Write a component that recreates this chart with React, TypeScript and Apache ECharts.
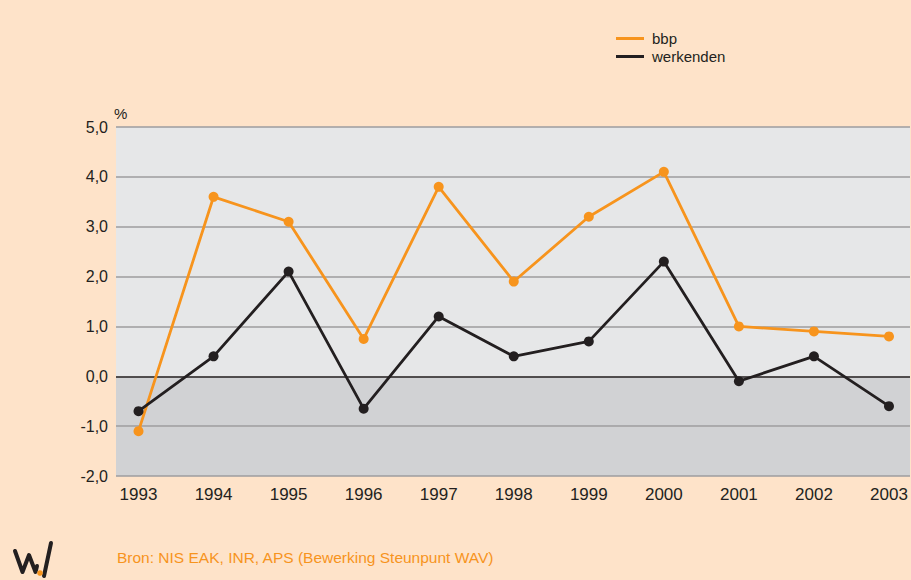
import React, { useEffect, useRef } from "react";
import * as echarts from "echarts";

const years = [1993, 1994, 1995, 1996, 1997, 1998, 1999, 2000, 2001, 2002, 2003];
const bbp = [-1.1, 3.6, 3.1, 0.75, 3.8, 1.9, 3.2, 4.1, 1.0, 0.9, 0.8];
const werkenden = [-0.7, 0.4, 2.1, -0.65, 1.2, 0.4, 0.7, 2.3, -0.1, 0.4, -0.6];
const seriesNames = ["bbp", "werkenden"];
const sourceText = "Bron: NIS EAK, INR, APS (Bewerking Steunpunt WAV)";

const FONT = "Liberation Sans, Arial, sans-serif";
const ORANGE = "#f7941d";
const DARK = "#231f20";
const GRIDGRAY = "#9d9d9f";

export default function App() {
  const ref = useRef<HTMLDivElement>(null);
  useEffect(() => {
    document.body.style.margin = "0";
    const chart = echarts.init(ref.current!, null, { renderer: "svg" });
    const mk = (vals: number[]) => years.map((y, i) => [y, vals[i]]);
    chart.setOption({
      animation: false,
      backgroundColor: "#fee3c9",
      textStyle: { fontFamily: FONT },
      grid: { left: 116, right: 1, top: 127, bottom: 104 },
      legend: {
        orient: "vertical",
        left: 611,
        top: 26,
        itemGap: 3,
        icon: "rect",
        itemWidth: 28,
        itemHeight: 3,
        textStyle: { fontSize: 15, color: DARK, fontFamily: FONT, padding: [0, 0, 0, 3] },
        data: seriesNames,
      },
      xAxis: {
        type: "value",
        min: 1992.7,
        max: 2003.28,
        minInterval: 1,
        maxInterval: 1,
        splitNumber: 11,
        axisLine: { show: false },
        axisTick: { show: false },
        splitLine: { show: false },
        axisLabel: {
          showMinLabel: false,
          showMaxLabel: false,
          fontSize: 17,
          color: DARK,
          margin: 10,
          fontFamily: FONT,
          formatter: (v: number) => String(Math.round(v)),
        },
      },
      yAxis: {
        type: "value",
        min: -2,
        max: 5,
        interval: 1,
        name: "%",
        nameLocation: "end",
        nameGap: 6,
        nameTextStyle: { fontSize: 15, color: DARK, align: "left", padding: [0, 0, 0, -2], fontFamily: FONT },
        axisLine: { show: false },
        axisTick: { show: false },
        axisLabel: {
          fontSize: 16,
          color: DARK,
          margin: 8,
          fontFamily: FONT,
          formatter: (v: number) => v.toFixed(1).replace(".", ","),
        },
        splitArea: {
          show: true,
          areaStyle: {
            color: ["#d1d2d4", "#d1d2d4", "#e6e7e8", "#e6e7e8", "#e6e7e8", "#e6e7e8", "#e6e7e8"],
          },
        },
        splitLine: {
          show: true,
          lineStyle: {
            width: 1.5,
            color: [GRIDGRAY, GRIDGRAY, DARK, GRIDGRAY, GRIDGRAY, GRIDGRAY, GRIDGRAY, GRIDGRAY],
          },
        },
      },
      series: [
        {
          name: seriesNames[0],
          type: "line",
          data: mk(bbp),
          symbol: "circle",
          symbolSize: 10,
          lineStyle: { color: ORANGE, width: 2.8 },
          itemStyle: { color: ORANGE },
          z: 3,
        },
        {
          name: seriesNames[1],
          type: "line",
          data: mk(werkenden),
          symbol: "circle",
          symbolSize: 10,
          lineStyle: { color: DARK, width: 2.8 },
          itemStyle: { color: DARK },
          z: 4,
        },
      ],
      graphic: [
        {
          type: "text",
          left: 117,
          top: 549,
          style: { text: sourceText, fill: ORANGE, fontSize: 15.5, fontFamily: FONT },
        },
        {
          type: "polyline",
          shape: { points: [[15, 551], [22.5, 572], [29, 555], [35.5, 572], [37, 566]] },
          style: { stroke: DARK, lineWidth: 4, fill: "none", lineJoin: "round", lineCap: "round" },
        },
        {
          type: "polyline",
          shape: { points: [[44, 576], [51, 543]] },
          style: { stroke: DARK, lineWidth: 4, fill: "none", lineCap: "round" },
        },
        {
          type: "circle",
          shape: { cx: 40, cy: 573, r: 2.8 },
          style: { fill: ORANGE },
        },
      ],
    });
    return () => chart.dispose();
  }, []);
  return (
    <div
      ref={ref}
      style={{ position: "absolute", left: 0, top: 0, width: 911, height: 580 }}
    />
  );
}
